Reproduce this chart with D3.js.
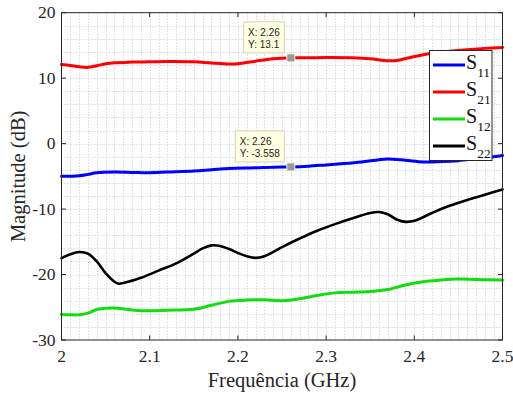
<!DOCTYPE html>
<meta charset="utf-8">
<head>
<style>
body { margin: 0; background: #fff; }
svg { display: block; }
.grid line { stroke: #c8c8c8; stroke-width: 1; stroke-dasharray: 1,2; }
.series { fill: none; stroke-linejoin: round; stroke-linecap: round; }
</style>
</head>
<body>
<svg width="513" height="396"></svg>
<script src="https://d3js.org/d3.v7.min.js"></script>
<script>

// frequency (GHz) and magnitude (dB) per trace
var s11Freq = [2.00, 2.02, 2.03, 2.04, 2.06, 2.08, 2.10, 2.12, 2.15, 2.17, 2.19, 2.22, 2.24, 2.26, 2.28, 2.30, 2.32, 2.34, 2.36, 2.37, 2.39, 2.41, 2.43, 2.45, 2.47, 2.49, 2.50],
    s11 = [-5.0, -4.9, -4.7, -4.45, -4.35, -4.4, -4.45, -4.35, -4.2, -4.0, -3.8, -3.7, -3.6, -3.558, -3.45, -3.25, -3.05, -2.8, -2.45, -2.35, -2.55, -2.8, -2.75, -2.6, -2.3, -2.0, -1.8];

var s21Freq = [2.00, 2.01, 2.02, 2.03, 2.04, 2.05, 2.06, 2.08, 2.10, 2.12, 2.15, 2.17, 2.19, 2.20, 2.22, 2.24, 2.26, 2.28, 2.30, 2.33, 2.35, 2.37, 2.38, 2.40, 2.42, 2.44, 2.46, 2.48, 2.50],
    s21 = [12.1, 11.95, 11.75, 11.65, 11.9, 12.2, 12.35, 12.45, 12.5, 12.55, 12.5, 12.3, 12.15, 12.2, 12.6, 12.95, 13.1, 13.1, 13.15, 13.1, 12.95, 12.65, 12.7, 13.3, 13.8, 14.1, 14.35, 14.55, 14.7];

var s12Freq = [2.00, 2.01, 2.02, 2.03, 2.04, 2.05, 2.06, 2.08, 2.10, 2.12, 2.15, 2.17, 2.19, 2.21, 2.23, 2.25, 2.27, 2.29, 2.31, 2.33, 2.35, 2.37, 2.39, 2.41, 2.43, 2.45, 2.47, 2.50],
    s12 = [-26.1, -26.15, -26.15, -25.9, -25.35, -25.15, -25.1, -25.4, -25.55, -25.45, -25.3, -24.7, -24.1, -23.9, -23.85, -24.0, -23.7, -23.2, -22.8, -22.7, -22.6, -22.3, -21.6, -21.1, -20.85, -20.7, -20.75, -20.85];

var s22Freq = [2.00, 2.01, 2.02, 2.03, 2.04, 2.05, 2.06, 2.065, 2.07, 2.09, 2.11, 2.13, 2.15, 2.16, 2.17, 2.18, 2.19, 2.20, 2.21, 2.22, 2.23, 2.25, 2.27, 2.29, 2.31, 2.33, 2.35, 2.36, 2.37, 2.38, 2.39, 2.40, 2.42, 2.44, 2.46, 2.48, 2.50],
    s22 = [-17.5, -16.9, -16.55, -16.8, -18.0, -19.8, -21.1, -21.4, -21.3, -20.5, -19.4, -18.3, -16.8, -16.0, -15.55, -15.65, -16.1, -16.7, -17.2, -17.45, -17.2, -15.8, -14.5, -13.3, -12.3, -11.4, -10.6, -10.45, -10.8, -11.6, -11.95, -11.8, -10.6, -9.5, -8.6, -7.8, -7.0];

var xTicks = [2, 2.1, 2.2, 2.3, 2.4, 2.5],
    yTicks = [-30, -20, -10, 0, 10, 20];

var seriesNames = ["11", "21", "12", "22"],
    seriesColors = ["#0000ff", "#ff0000", "#11dd11", "#000000"];

var dataTips = [[2.26, 13.1], [2.26, -3.558]];

var serif = "'Liberation Serif', 'Times New Roman', Times, serif",
    sans = "'Liberation Sans', Arial, Helvetica, sans-serif";

var svg = d3.select("svg");

var x = d3.scaleLinear().domain([2, 2.5]).range([61.5, 502.5]),
    y = d3.scaleLinear().domain([-30, 20]).range([340, 12.7]);

var x0 = x.range()[0], x1 = x.range()[1],
    y0 = y.range()[0], y1 = y.range()[1];

// minor + major grid, dotted
var grid = svg.append("g").attr("class", "grid");
grid.selectAll(".gx")
    .data(d3.range(1, 50).map(function(i) { return 2 + i * 0.01; }))
  .enter().append("line")
    .attr("x1", function(d) { return Math.round(x(d)) + 0.5; })
    .attr("x2", function(d) { return Math.round(x(d)) + 0.5; })
    .attr("y1", y1).attr("y2", y0);
grid.selectAll(".gy")
    .data(d3.range(1, 25).map(function(i) { return -30 + i * 2; }))
  .enter().append("line")
    .attr("y1", function(d) { return Math.round(y(d)) + 0.5; })
    .attr("y2", function(d) { return Math.round(y(d)) + 0.5; })
    .attr("x1", x0).attr("x2", x1);

// traces
var series = [
  [s11Freq, s11], [s21Freq, s21], [s12Freq, s12], [s22Freq, s22]
];

var line = d3.line()
    .x(function(d) { return x(d[0]); })
    .y(function(d) { return y(d[1]); })
    .curve(d3.curveCatmullRom.alpha(0.5));

series.forEach(function(s, i) {
  svg.append("path")
      .attr("class", "series")
      .attr("stroke", seriesColors[i])
      .attr("stroke-width", i == 3 ? 2.6 : 3)
      .attr("d", line(d3.zip(s[0], s[1])));
});

// box + inward ticks
var axes = svg.append("g").attr("stroke", "#262626").attr("stroke-width", 1).attr("fill", "none");
axes.append("rect")
    .attr("x", x0).attr("y", y1)
    .attr("width", x1 - x0).attr("height", y0 - y1);
xTicks.forEach(function(t) {
  axes.append("line").attr("x1", x(t)).attr("x2", x(t)).attr("y1", y0).attr("y2", y0 - 4.5);
  axes.append("line").attr("x1", x(t)).attr("x2", x(t)).attr("y1", y1).attr("y2", y1 + 4.5);
});
yTicks.forEach(function(t) {
  axes.append("line").attr("y1", y(t)).attr("y2", y(t)).attr("x1", x0).attr("x2", x0 + 4.5);
  axes.append("line").attr("y1", y(t)).attr("y2", y(t)).attr("x1", x1).attr("x2", x1 - 4.5);
});

svg.selectAll(".xl")
    .data(xTicks)
  .enter().append("text")
    .attr("font-family", serif)
    .attr("font-size", 17.5)
    .attr("fill", "#262626")
    .attr("x", function(d) { return x(d); })
    .attr("y", 362)
    .attr("text-anchor", "middle")
    .text(function(d) { return d; });

svg.selectAll(".yl")
    .data(yTicks)
  .enter().append("text")
    .attr("font-family", serif)
    .attr("font-size", 17.5)
    .attr("fill", "#262626")
    .attr("x", x0 - 6)
    .attr("y", function(d) { return y(d); })
    .attr("dy", ".33em")
    .attr("text-anchor", "end")
    .text(function(d) { return d; });

svg.append("text")
    .attr("font-family", serif)
    .attr("font-size", 20.5)
    .attr("fill", "#262626")
    .attr("x", (x0 + x1) / 2)
    .attr("y", 387)
    .attr("text-anchor", "middle")
    .text("Frequência (GHz)");

svg.append("text")
    .attr("font-family", serif)
    .attr("font-size", 20.5)
    .attr("fill", "#262626")
    .attr("transform", "translate(25," + (y0 + y1) / 2 + ") rotate(-90)")
    .attr("text-anchor", "middle")
    .text("Magnitude (dB)");

// data tips
dataTips.forEach(function(p) {
  var px = x(p[0]), py = y(p[1]);
  var g = svg.append("g")
      .attr("font-family", sans)
      .attr("font-size", 10)
      .attr("fill", "#222");
  var box = g.append("rect");
  var t1 = g.append("text").text("X: " + p[0]),
      t2 = g.append("text").text("Y: " + p[1]);
  var w = Math.max(t1.node().getComputedTextLength(), t2.node().getComputedTextLength()) + 9,
      h = 31,
      bx = px - 6.5 - w,
      by = py - 5 - h;
  box.attr("x", bx).attr("y", by).attr("width", w).attr("height", h)
      .attr("fill", "#ffffe1").attr("stroke", "#d2d2be").attr("stroke-width", 1);
  t1.attr("x", bx + 4.5).attr("y", by + 14);
  t2.attr("x", bx + 4.5).attr("y", by + 26);
  g.append("rect")
      .attr("x", px - 4).attr("y", py - 4)
      .attr("width", 8).attr("height", 8)
      .attr("fill", "#9a9a9a").attr("stroke", "#f4f0d8").attr("stroke-width", 1);
});

// legend
var legend = svg.append("g");
legend.append("rect")
    .attr("x", 429.5).attr("y", 50.5)
    .attr("width", 62.5).attr("height", 110)
    .attr("fill", "#fff").attr("stroke", "#262626").attr("stroke-width", 1);

var entry = legend.selectAll(".entry")
    .data(seriesNames)
  .enter().append("g")
    .attr("transform", function(d, i) { return "translate(0," + (65 + i * 27) + ")"; });

entry.append("line")
    .attr("x1", 433).attr("x2", 465)
    .attr("stroke", function(d, i) { return seriesColors[i]; })
    .attr("stroke-width", 3);

var lt = entry.append("text")
    .attr("font-family", serif)
    .attr("fill", "#111")
    .attr("x", 466)
    .attr("y", 4)
    .attr("font-size", 20);
lt.append("tspan").text("S");
lt.append("tspan").attr("dy", 8).attr("font-size", 13.5).text(function(d) { return d; });

</script>
</body>
